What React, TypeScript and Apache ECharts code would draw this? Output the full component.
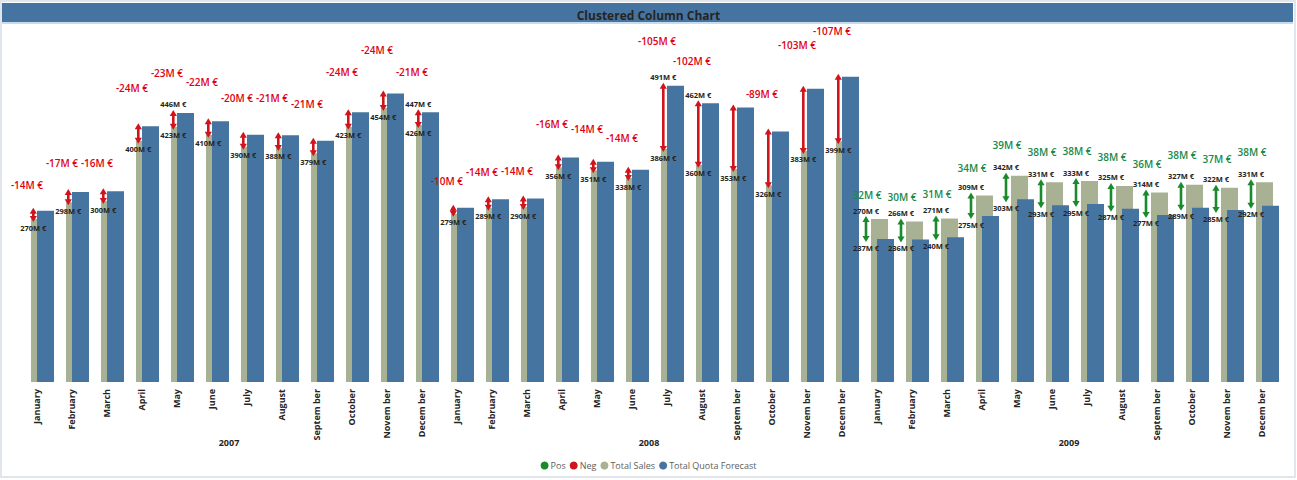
import React, { useEffect, useRef } from 'react';
import * as echarts from 'echarts';

const years = ['2007', '2008', '2009'];
const months = ['January', 'February', 'March', 'April', 'May', 'June', 'July', 'August', 'Septem ber', 'October', 'Novem ber', 'Decem ber'];

const totalSales = [
  270, 298, 300, 400, 423, 410, 390, 388, 379, 423, 454, 426,
  279, 289, 290, 356, 351, 338, 386, 360, 353, 326, 383, 399,
  270, 266, 271, 309, 342, 331, 333, 325, 314, 327, 322, 331,
];
const totalQuota = [
  284, 315, 316, 424, 446, 432, 410, 409, 400, 447, 478, 447,
  289, 303, 304, 372, 365, 352, 491, 462, 455, 415, 486, 506,
  237, 236, 240, 275, 303, 293, 295, 287, 277, 289, 285, 292,
];
const variance = [
  -14, -17, -16, -24, -23, -22, -20, -21, -21, -24, -24, -21,
  -10, -14, -14, -16, -14, -14, -105, -102, -102, -89, -103, -107,
  32, 30, 31, 34, 39, 38, 38, 38, 36, 38, 37, 38,
];
const showQuotaLabel = [
  0, 0, 0, 0, 1, 0, 0, 0, 0, 0, 0, 1,
  0, 0, 0, 0, 0, 0, 1, 1, 0, 0, 0, 0,
  1, 1, 1, 1, 1, 1, 1, 1, 1, 1, 1, 1,
];
const showVarianceLabel = [
  1, 1, 1, 1, 1, 1, 1, 1, 1, 1, 1, 1,
  1, 1, 1, 1, 1, 1, 1, 1, 0, 1, 1, 1,
  1, 1, 1, 1, 1, 1, 1, 1, 1, 1, 1, 1,
];

const FONT = '"Open Sans", "Noto Sans", sans-serif';
const SALES_COLOR = '#a8b193';
const QUOTA_COLOR = '#4674a1';
const POS_COLOR = '#1a8a2c';
const NEG_COLOR = '#d0141c';
const POS_TEXT = '#17894a';
const NEG_TEXT = '#e0000f';

const categories = years.flatMap(() => months);

function barRenderer(offset: number) {
  return (params: any, api: any) => {
    const i = api.value(0);
    const v = api.value(1);
    const top = api.coord([i, v]);
    const base = api.coord([i, 0]);
    return {
      type: 'rect',
      shape: { x: top[0] + offset, y: top[1], width: 17, height: base[1] - top[1] },
      style: { fill: api.visual('color') },
    };
  };
}

function arrowRenderer(color: string, textColor: string, dx: number) {
  return (params: any, api: any) => {
    const i = api.value(0);
    const s = api.value(1);
    const q = api.value(2);
    const d = api.value(3);
    const showQ = api.value(4);
    const showD = api.value(5);
    const hi = Math.max(s, q);
    const lo = Math.min(s, q);
    const pHi = api.coord([i, hi]);
    const pLo = api.coord([i, lo]);
    const cx = pHi[0] + dx;
    const yT = pHi[1] - 3;
    const yB = pLo[1] + 3;
    const hh = 6;
    const hw = 3.6;
    const salesUpper = s >= q;
    const fmt = (v: number) => `${v}M €`;
    const valueStyle = (text: string) => ({
      text,
      fill: '#252423',
      fontSize: 7.5,
      fontWeight: 'bold',
      fontFamily: FONT,
      align: 'center',
      verticalAlign: 'middle',
    });
    const children: any[] = [
      { type: 'rect', shape: { x: cx - 1.3, y: yT + hh - 1, width: 2.6, height: Math.max(0, yB - yT - 2 * hh + 2) }, style: { fill: color } },
      { type: 'polygon', shape: { points: [[cx, yT], [cx - hw, yT + hh], [cx + hw, yT + hh]] }, style: { fill: color } },
      { type: 'polygon', shape: { points: [[cx, yB], [cx - hw, yB - hh], [cx + hw, yB - hh]] }, style: { fill: color } },
    ];
    if (showD) {
      const pLabel = api.coord([i, hi * 1.15]);
      children.push({
        type: 'text',
        x: pHi[0] - 9.5,
        y: pLabel[1],
        style: {
          text: d < 0 ? `-${Math.abs(d)}M €` : `${d}M €`,
          fill: textColor,
          fontSize: 10,
          fontWeight: 600,
          fontFamily: FONT,
          align: 'center',
          verticalAlign: 'middle',
        },
      });
    }
    const upperText = salesUpper ? fmt(s) : fmt(q);
    const lowerText = salesUpper ? fmt(q) : fmt(s);
    const showUpper = salesUpper ? true : !!showQ;
    const showLower = salesUpper ? !!showQ : true;
    if (showUpper) {
      children.push({ type: 'text', x: cx, y: pHi[1] - 8.5, style: valueStyle(upperText) });
    }
    if (showLower) {
      children.push({ type: 'text', x: cx, y: pLo[1] + 8.5, style: valueStyle(lowerText) });
    }
    return { type: 'group', children };
  };
}

export default function App() {
  const ref = useRef<HTMLDivElement>(null);

  useEffect(() => {
    if (!ref.current) return;
    const chart = echarts.init(ref.current, undefined, { renderer: 'svg' });

    const salesData = totalSales.map((v, i) => [i, v]);
    const quotaData = totalQuota.map((v, i) => [i, v]);
    const rows = totalSales.map((s, i) => [i, s, totalQuota[i], variance[i], showQuotaLabel[i], showVarianceLabel[i]]);
    const posData = rows.filter((r) => (r[1] as number) >= (r[2] as number));
    const negData = rows.filter((r) => (r[1] as number) < (r[2] as number));

    chart.setOption({
      animation: false,
      backgroundColor: '#ffffff',
      title: {
        text: 'Clustered Column Chart',
        left: 'center',
        top: 4,
        textStyle: { fontSize: 12, fontWeight: 'bold', color: '#252423', fontFamily: FONT },
      },
      graphic: [
        { type: 'rect', z: -10, shape: { x: 1, y: 1, width: 1294, height: 476 }, style: { fill: 'none', stroke: '#e1e6ec', lineWidth: 2 } },
        { type: 'rect', z: -5, shape: { x: 2, y: 3, width: 1291, height: 19 }, style: { fill: QUOTA_COLOR } },
        { type: 'rect', z: -5, shape: { x: 2, y: 22, width: 1291, height: 2 }, style: { fill: '#c8dbec' } },
      ],
      legend: {
        data: ['Pos', 'Neg', 'Total Sales', 'Total Quota Forecast'],
        left: 'center',
        top: 456,
        icon: 'circle',
        itemWidth: 8,
        itemHeight: 8,
        itemGap: 4,
        textStyle: { fontSize: 9, color: '#605e5c', fontFamily: FONT, padding: [0, 0, 0, -3] },
      },
      grid: { left: 19, width: 1260, top: 20, bottom: 98, containLabel: false },
      xAxis: [
        {
          type: 'category',
          data: categories,
          axisLine: { show: false },
          axisTick: { show: false },
          axisLabel: {
            interval: 0,
            rotate: 90,
            margin: 7,
            fontSize: 9,
            fontWeight: 'bold',
            color: '#252423',
            fontFamily: FONT,
          },
        },
        {
          type: 'category',
          data: years,
          position: 'bottom',
          offset: 52,
          axisLine: { show: false },
          axisTick: { show: false },
          axisLabel: { fontSize: 9, fontWeight: 'bold', color: '#252423', fontFamily: FONT, margin: 4 },
        },
      ],
      yAxis: { type: 'value', min: 0, max: 600, show: false, splitLine: { show: false } },
      series: [
        {
          name: 'Pos',
          type: 'custom',
          z: 4,
          itemStyle: { color: POS_COLOR },
          encode: { x: 0, y: [1, 2] },
          data: posData,
          renderItem: arrowRenderer(POS_COLOR, POS_TEXT, -10.5),
        },
        {
          name: 'Neg',
          type: 'custom',
          z: 4,
          itemStyle: { color: NEG_COLOR },
          encode: { x: 0, y: [1, 2] },
          data: negData,
          renderItem: arrowRenderer(NEG_COLOR, NEG_TEXT, -3.2),
        },
        {
          name: 'Total Sales',
          type: 'custom',
          z: 2,
          itemStyle: { color: SALES_COLOR },
          encode: { x: 0, y: 1 },
          data: salesData,
          renderItem: barRenderer(-5.5),
        },
        {
          name: 'Total Quota Forecast',
          type: 'custom',
          z: 3,
          itemStyle: { color: QUOTA_COLOR },
          encode: { x: 0, y: 1 },
          data: quotaData,
          renderItem: barRenderer(0.5),
        },
      ],
    });

    return () => chart.dispose();
  }, []);

  return (
    <div
      ref={ref}
      style={{ position: 'fixed', left: 0, top: 0, width: 1297, height: 480 }}
    />
  );
}
